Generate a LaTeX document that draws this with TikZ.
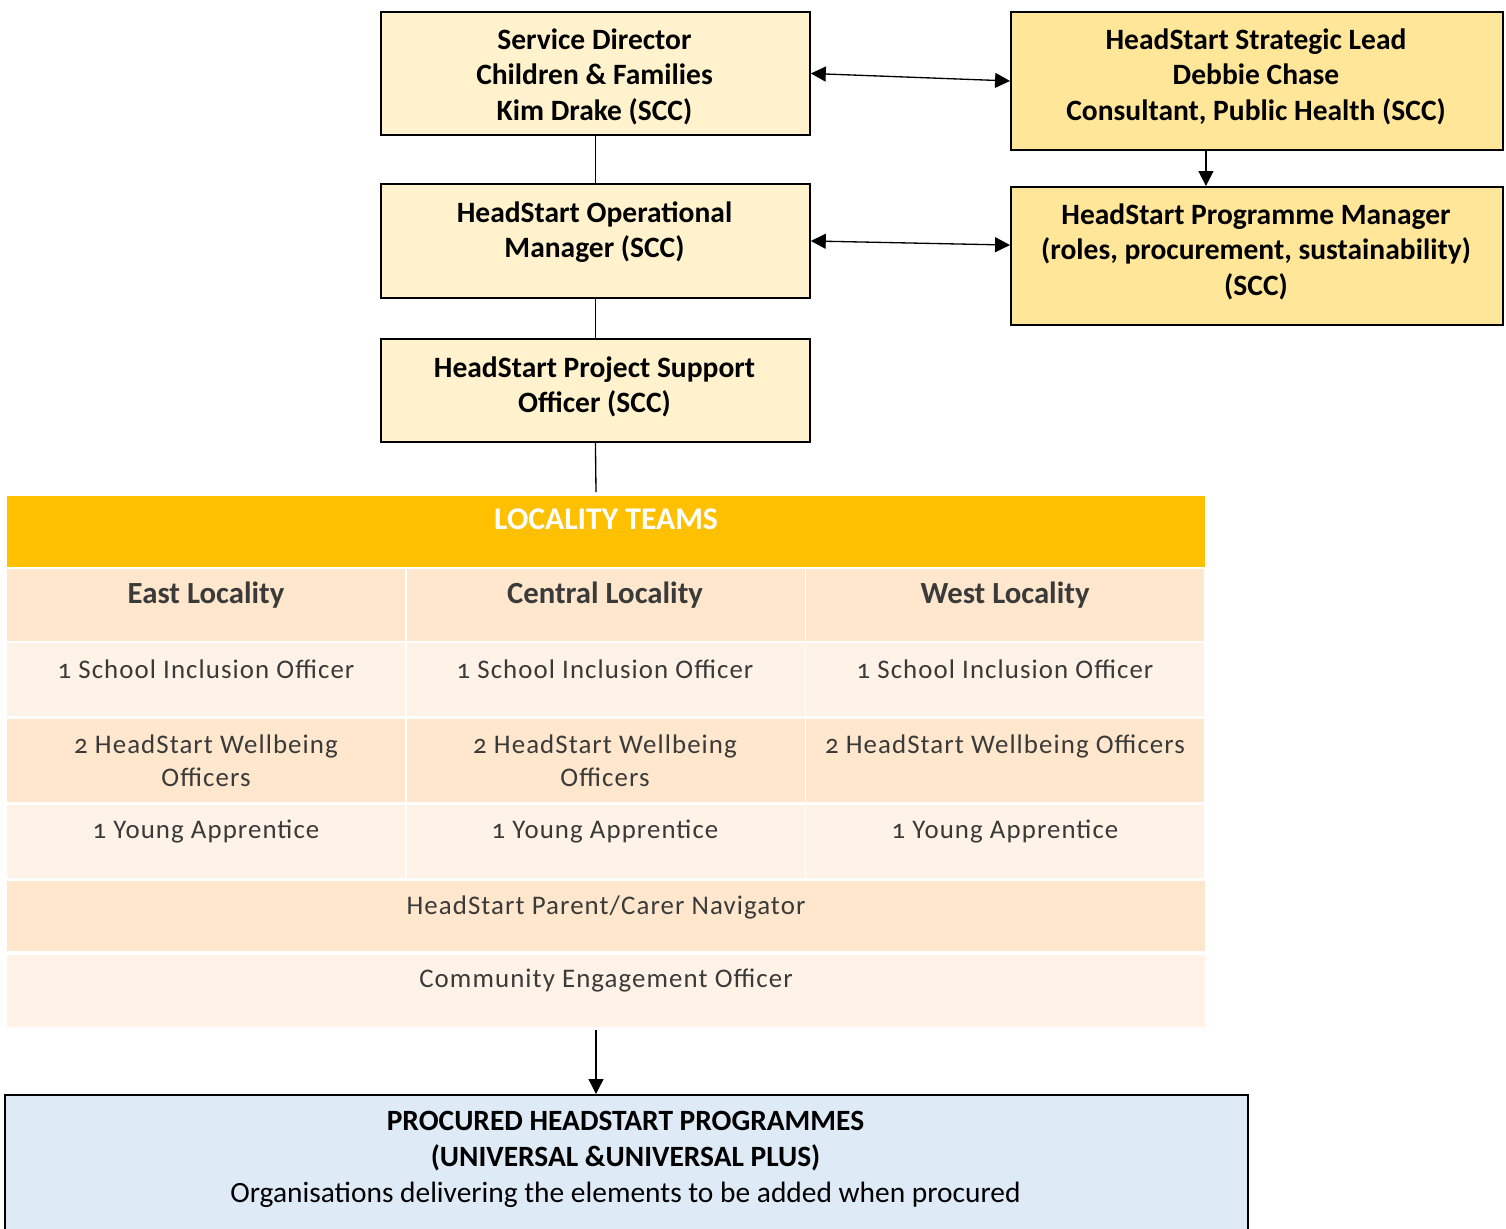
\documentclass[tikz,border=0pt]{standalone}
\usepackage{fontspec}
\setmainfont{Carlito}
\newfontfamily\tablefont{Carlito}[Numbers=OldStyle,LetterSpace=4]
\usetikzlibrary{positioning,arrows.meta}

\definecolor{paleyellow}{HTML}{FFF2CC}
\definecolor{deepyellow}{HTML}{FFE699}
\definecolor{teamsorange}{HTML}{FFC000}
\definecolor{peach}{HTML}{FEE7CC}
\definecolor{cream}{HTML}{FEF3E6}
\definecolor{paleblue}{HTML}{DEEAF6}
\definecolor{inkgray}{HTML}{3A3A3A}

\begin{document}
\begin{tikzpicture}[x=0.02cm, y=-0.02cm,
    frame/.style={draw, line width=1.1pt, anchor=north west, inner sep=0pt},
    boxtext/.style={anchor=north, align=center, inner sep=0pt,
      font=\bfseries\fontsize{16.8}{20.4}\selectfont},
    celltext/.style={anchor=north, align=center, inner sep=0pt, text=inkgray,
      font=\tablefont\fontsize{15.3}{19.3}\selectfont},
    headtext/.style={celltext, font=\bfseries\fontsize{17.5}{19.3}\selectfont},
    link/.style={line width=0.75pt},
    arrow/.style={link, -{Triangle[length=8.5pt,width=8.5pt]}},
    twoway/.style={link, {Triangle[length=8.5pt,width=8.5pt]}-{Triangle[length=8.5pt,width=8.5pt]}}
  ]
  \useasboundingbox (0,0) rectangle (1506,1228);

  % management boxes
  \node[frame, fill=paleyellow, minimum width=8.58cm, minimum height=2.46cm] (sd) at (380,11) {};
  \node[boxtext] (sd-text) at (594.5,28) {Service Director\\Children \& Families\\Kim Drake (SCC)};
  \node[frame, fill=deepyellow, minimum width=9.84cm, minimum height=2.76cm] (lead) at (1010,11) {};
  \node[boxtext] (lead-text) at (1256,28) {HeadStart Strategic Lead\\Debbie Chase\\Consultant, Public Health (SCC)};
  \node[frame, fill=paleyellow, minimum width=8.58cm, minimum height=2.28cm] (opm) at (380,183) {};
  \node[boxtext] (opm-text) at (594.5,201) {HeadStart Operational\\Manager (SCC)};
  \node[frame, fill=deepyellow, minimum width=9.84cm, minimum height=2.76cm] (prog) at (1010,186) {};
  \node[boxtext] (prog-text) at (1256,203) {HeadStart Programme Manager\\(roles, procurement, sustainability)\\(SCC)};
  \node[frame, fill=paleyellow, minimum width=8.58cm, minimum height=2.06cm] (pso) at (380,338) {};
  \node[boxtext] (pso-text) at (594.5,356) {HeadStart Project Support\\Officer (SCC)};

  % locality teams table
  \fill[teamsorange] (7,496) rectangle (1205,567);
  \node[headtext, text=white, font=\bfseries\fontsize{18}{20}\selectfont] (teams) at (606,508) {LOCALITY TEAMS};
  \foreach \x in {7,407,806} {
    \fill[peach] (\x,569) rectangle +(398,72);
    \fill[cream] (\x,643) rectangle +(398,73);
    \fill[peach] (\x,719) rectangle +(398,83);
    \fill[cream] (\x,805) rectangle +(398,73);
  }
  \fill[peach] (7,881) rectangle (1205,951);
  \fill[cream] (7,955) rectangle (1205,1027);

  \node[headtext] (east) at (206,582) {East Locality};
  \node[headtext] (central) at (605,582) {Central Locality};
  \node[headtext] (west) at (1005,582) {West Locality};
  \node[celltext] (east-sio) at (206,659) {1 School Inclusion Officer};
  \node[celltext] (central-sio) at (605,659) {1 School Inclusion Officer};
  \node[celltext] (west-sio) at (1005,659) {1 School Inclusion Officer};
  \node[celltext] (east-hwo) at (206,734) {2 HeadStart Wellbeing\\Officers};
  \node[celltext] (central-hwo) at (605,734) {2 HeadStart Wellbeing\\Officers};
  \node[celltext] (west-hwo) at (1005,734) {2 HeadStart Wellbeing Officers};
  \node[celltext] (east-ya) at (206,820) {1 Young Apprentice};
  \node[celltext] (central-ya) at (605,820) {1 Young Apprentice};
  \node[celltext] (west-ya) at (1005,820) {1 Young Apprentice};
  \node[celltext] (navigator) at (606,895) {HeadStart Parent/Carer Navigator};
  \node[celltext] (engagement) at (606,969) {Community Engagement Officer};

  \coordinate (table-top) at (596,492);
  \coordinate (table-bottom) at (596,1030);

  % procured programmes
  \node[frame, fill=paleblue, minimum width=24.86cm, minimum height=2.8cm] (procured) at (4,1094) {};
  \node[boxtext, font=\fontsize{16.75}{20.4}\selectfont] (procured-text) at (625.5,1111)
    {\textbf{PROCURED HEADSTART PROGRAMMES}\\\textbf{(UNIVERSAL \&UNIVERSAL PLUS)}\\Organisations delivering the elements to be added when procured};

  % connectors
  \draw[link] (sd.south) -- (opm.north);
  \draw[link] (opm.south) -- (pso.north);
  \draw[link] (pso.south) -- (table-top);
  \draw[twoway] (sd.east) -- (lead.west);
  \draw[twoway] (opm.east) -- ([yshift=6.2pt]prog.west);
  \draw[arrow] ([xshift=-1.02cm]lead.south) -- ([xshift=-1.02cm]prog.north);
  \draw[arrow] (table-bottom) -- (table-bottom |- procured.north);
\end{tikzpicture}
\end{document}
